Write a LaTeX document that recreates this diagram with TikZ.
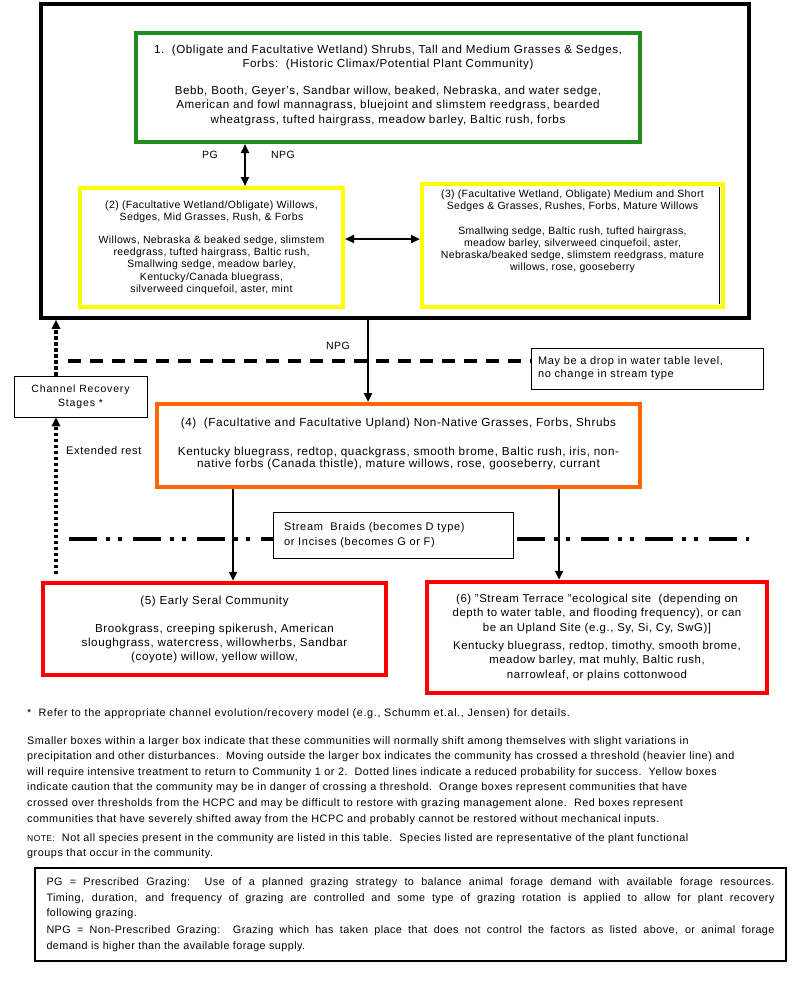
\documentclass[tikz,border=0pt]{standalone}
\usepackage{fontspec}
\setmainfont{Liberation Sans}
\usetikzlibrary{arrows.meta}
\newcommand\fsz[2]{\fontsize{#1}{#2}\selectfont}
\newcommand\lsp[1]{\addfontfeatures{LetterSpace=#1}}
\definecolor{cgreen}{RGB}{30,140,30}
\definecolor{cyellow}{RGB}{255,255,0}
\definecolor{corange}{RGB}{255,102,0}
\definecolor{cred}{RGB}{255,0,0}
\tikzset{
  cbox/.style={draw, line width=4pt, fill=white, align=center, inner sep=0pt},
  thinbox/.style={draw, line width=0.9pt, fill=white, inner sep=0pt},
  tip/.style={-{Triangle[length=9pt,width=8pt]}},
  dtip/.style={{Triangle[length=9pt,width=8pt]}-{Triangle[length=9pt,width=8pt]}},
  lbl/.style={font=\lsp{5}\fsz{10.5}{12}, inner sep=0pt},
  dashedthr/.style={line width=4pt, dash pattern=on 13pt off 9pt},
  dashdotthr/.style={line width=4pt, dash pattern=on 28pt off 9pt on 4pt off 8pt on 4pt off 11pt},
  dottedthr/.style={line width=3.5pt, dash pattern=on 3.5pt off 2.5pt},
}
\begin{document}
\begin{tikzpicture}[x=1pt,y=-1pt]
\useasboundingbox[fill=white] (0,0) rectangle (800,983);

% outer threshold box
\node[draw, line width=3.5pt, minimum width=708pt, minimum height=314pt, inner sep=0pt] (outer) at (395,161) {};

% community boxes
\node[cbox, draw=cgreen, minimum width=504pt, minimum height=109pt, font=\lsp{5}\fsz{11.6}{14.5}] (c1) at (388,87.5)
 {1.\ \ (Obligate and Facultative Wetland) Shrubs, Tall and Medium Grasses \& Sedges,\\
  Forbs:\ \ (Historic Climax/Potential Plant Community)\\[12pt]
  Bebb, Booth, Geyer's, Sandbar willow, beaked, Nebraska, and water sedge,\\
  American and fowl mannagrass, bluejoint and slimstem reedgrass, bearded\\
  wheatgrass, tufted hairgrass, meadow barley, Baltic rush, forbs\\[-8pt]\mbox{}};

\node[cbox, draw=cyellow, minimum width=263pt, minimum height=119pt, font=\lsp{3.5}\fsz{10.5}{12.2}] (c2) at (211.5,247.5)
 {(2) (Facultative Wetland/Obligate) Willows,\\
  Sedges, Mid Grasses, Rush, \& Forbs\\[11pt]
  Willows, Nebraska \& beaked sedge, slimstem\\
  reedgrass, tufted hairgrass, Baltic rush,\\
  Smallwing sedge, meadow barley,\\
  Kentucky/Canada bluegrass,\\
  silverweed cinquefoil, aster, mint};

\node[cbox, draw=cyellow, minimum width=301pt, minimum height=123pt, font=\lsp{3}\fsz{10.5}{12}] (c3) at (572.5,245.5)
 {(3) (Facultative Wetland, Obligate) Medium and Short\\
  Sedges \& Grasses, Rushes, Forbs, Mature Willows\\[13pt]
  Smallwing sedge, Baltic rush, tufted hairgrass,\\
  meadow barley, silverweed cinquefoil, aster,\\
  Nebraska/beaked sedge, slimstem reedgrass, mature\\
  willows, rose, gooseberry\\[19pt]\mbox{}};
\draw[line width=0.8pt] ([xshift=-6pt,yshift=-5pt]c3.north east) -- ([xshift=-6pt,yshift=5pt]c3.south east);

\node[cbox, draw=corange, minimum width=483pt, minimum height=83pt, font=\lsp{5}\fsz{11.7}{11.8}] (c4) at (398.5,445.5)
 {(4)\ \ (Facultative and Facultative Upland) Non-Native Grasses, Forbs, Shrubs\\[17pt]
  Kentucky bluegrass, redtop, quackgrass, smooth brome, Baltic rush, iris, non-\\
  native forbs (Canada thistle), mature willows, rose, gooseberry, currant\\[-6pt]\mbox{}};

% threshold lines (drawn before the boxes that cover them)
\coordinate (dashstart) at (68,361);
\coordinate (ddstart) at (69,539);
\coordinate (ddend) at (749,539);
\draw[dashdotthr] (ddstart) -- (ddend);

\node[thinbox, minimum width=232pt, minimum height=41pt, align=left, font=\lsp{6}\fsz{11}{13}, text width=218pt] (may) at (647,368.5)
 {May be a drop in water table level,\\ no change in stream type};
\draw[dashedthr] (dashstart) -- (may.west |- dashstart);

\node[thinbox, minimum width=240pt, minimum height=46pt, align=left, font=\lsp{6.5}\fsz{11}{15.5}, text width=218pt] (braid) at (393,535)
 {Stream\ \ Braids (becomes D type)\\ or Incises (becomes G or F)};

\node[thinbox, minimum width=133pt, minimum height=41pt, align=center, font=\lsp{8}\fsz{10.5}{14}] (crs) at (80.5,396.5)
 {Channel Recovery\\ Stages *};

\node[cbox, draw=cred, line width=4.5pt, minimum width=343pt, minimum height=92pt, font=\lsp{5}\fsz{11.6}{14}] (c5) at (214.5,629)
 {(5) Early Seral Community\\[14pt]
  Brookgrass, creeping spikerush, American\\
  sloughgrass, watercress, willowherbs, Sandbar\\
  (coyote) willow, yellow willow,};

\node[cbox, draw=cred, line width=4.5pt, minimum width=340pt, minimum height=111pt, font=\lsp{5}\fsz{11.4}{14.5}] (c6) at (597,637.5)
 {(6) "Stream Terrace "ecological site\ \ (depending on\\
  depth to water table, and flooding frequency), or can\\
  be an Upland Site (e.g., Sy, Si, Cy, SwG)]\\[3.5pt]
  Kentucky bluegrass, redtop, timothy, smooth brome,\\
  meadow barley, mat muhly, Baltic rush,\\
  narrowleaf, or plains cottonwood};

% connectors
\coordinate (pgx) at (245,0);
\draw[dtip, line width=2pt] (pgx |- c1.south) -- (pgx |- c2.north);
\node[lbl] (pg) at (210,155) {PG};
\node[lbl] (npg1) at (283,155) {NPG};

\coordinate (midy) at (0,239);
\draw[dtip, line width=2.5pt] (c2.east |- midy) -- (c3.west |- midy);

\coordinate (npgx) at (368,0);
\draw[tip, line width=2.8pt] (npgx |- outer.south) -- (npgx |- c4.north);
\node[lbl] (npg2) at (338,346) {NPG};

\coordinate (ax5) at (233,0);
\coordinate (ax6) at (559,0);
\draw[tip, line width=2.8pt] (ax5 |- c4.south) -- (ax5 |- c5.north);
\draw[tip, line width=2.8pt] (ax6 |- c4.south) -- (ax6 |- c6.north);

\coordinate (dotx) at (56,0);
\coordinate (dotbottom) at (56,574);
\draw[dottedthr, -{Triangle[length=9pt,width=9pt,line width=0pt]}] (dotbottom) -- (dotx |- crs.south);
\draw[dottedthr, -{Triangle[length=9pt,width=9pt,line width=0pt]}] (dotx |- crs.north) -- (dotx |- outer.south);
\node[lbl, anchor=west, font=\lsp{6}\fsz{11}{12}] (ext) at (66,451) {Extended rest};

% notes
\node[anchor=west, inner sep=0pt, font=\lsp{6}\fsz{10.8}{12}] (fn) at (27,714)
 {*\ \ Refer to the appropriate channel evolution/recovery model (e.g., Schumm et.al., Jensen) for details.};
\node[anchor=north west, inner sep=0pt, align=left, font=\lsp{5}\fsz{10.8}{15.6}] (para) at (27,736)
 {Smaller boxes within a larger box indicate that these communities will normally shift among themselves with slight variations in\\
  precipitation and other disturbances.\ \ Moving outside the larger box indicates the community has crossed a threshold (heavier line) and\\
  will require intensive treatment to return to Community 1 or 2.\ \ Dotted lines indicate a reduced probability for success.\ \ Yellow boxes\\
  indicate caution that the community may be in danger of crossing a threshold.\ \ Orange boxes represent communities that have\\
  crossed over thresholds from the HCPC and may be difficult to restore with grazing management alone.\ \ Red boxes represent\\
  communities that have severely shifted away from the HCPC and probably cannot be restored without mechanical inputs.};
\node[anchor=north west, inner sep=0pt, align=left, font=\lsp{5}\fsz{10.8}{15.6}] (note) at (27,833)
 {{\fsz{8.5}{10}NOTE:}\ \ Not all species present in the community are listed in this table.\ \ Species listed are representative of the plant functional\\
  groups that occur in the community.};

\node[thinbox, line width=1.2pt, minimum width=751pt, minimum height=93pt, align=left, font=\lsp{4}\fsz{10.8}{15.5}] (defs) at (410.5,914.5)
 {\makebox[728pt][s]{PG = Prescribed Grazing:\ \ Use of a planned grazing strategy to balance animal forage demand with available forage resources.}\\
  \makebox[728pt][s]{Timing, duration, and frequency of grazing are controlled and some type of grazing rotation is applied to allow for plant recovery}\\
  following grazing.\\[1.5pt]
  \makebox[728pt][s]{NPG = Non-Prescribed Grazing:\ \ Grazing which has taken place that does not control the factors as listed above, or animal forage}\\
  demand is higher than the available forage supply.};
\end{tikzpicture}
\end{document}
